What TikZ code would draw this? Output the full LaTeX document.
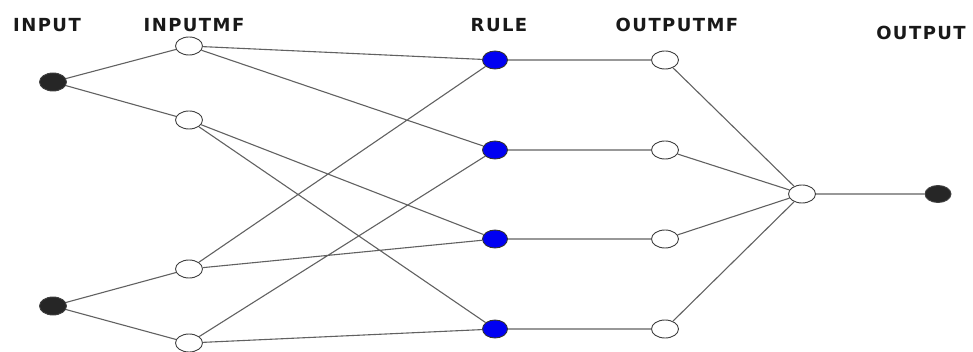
\documentclass[tikz,border=0pt]{standalone}
\usepackage{fontspec}
\setmainfont{Liberation Sans}
\newfontfamily\lblfont{DejaVu Sans}
\usetikzlibrary{shapes.geometric}
\begin{document}
\begin{tikzpicture}[x=1pt,y=-1pt,
  neuron/.style={ellipse,draw=black!75,line width=0.9pt,inner sep=0pt,minimum width=27pt,minimum height=18pt},
  inode/.style={neuron,fill=black!85},
  mfnode/.style={neuron,fill=white},
  rnode/.style={neuron,fill=blue!95!black,draw=black!80,minimum width=25pt,minimum height=18pt},
  lbl/.style={font=\lblfont\fontsize{18}{20}\selectfont\bfseries\addfontfeatures{LetterSpace=8},text=black!90},
  conn/.style={draw=black!62,line width=1.1pt}]
\useasboundingbox (0,0) rectangle (973,352);
\node[lbl] (tin) at (47,25) {INPUT};
\node[lbl] (tmf) at (194,25) {INPUTMF};
\node[lbl] (tr) at (499,25) {RULE};
\node[lbl] (tomf) at (677,25) {OUTPUTMF};
\node[lbl] (tout) at (921,33) {OUTPUT};
\node[inode] (x1) at (53,82) {};
\node[inode] (x2) at (53,306) {};
\node[mfnode] (a1) at (189,46) {};
\node[mfnode] (a2) at (189,120) {};
\node[mfnode] (b1) at (189,269) {};
\node[mfnode] (b2) at (189,343) {};
\node[rnode] (r1) at (495,60) {};
\node[rnode] (r2) at (495,150) {};
\node[rnode] (r3) at (495,239) {};
\node[rnode] (r4) at (495,329) {};
\node[mfnode] (o1) at (665,60) {};
\node[mfnode] (o2) at (665,150) {};
\node[mfnode] (o3) at (665,239) {};
\node[mfnode] (o4) at (665,329) {};
\node[mfnode] (s) at (802,194) {};
\node[inode,minimum width=26pt,minimum height=17pt] (y) at (938,194) {};
\path[conn] (x1)--(a1) (x1)--(a2) (x2)--(b1) (x2)--(b2)
  (a1)--(r1) (a1)--(r2) (a2)--(r3) (a2)--(r4)
  (b1)--(r1) (b1)--(r3) (b2)--(r2) (b2)--(r4)
  (r1)--(o1) (r2)--(o2) (r3)--(o3) (r4)--(o4)
  (o1)--(s) (o2)--(s) (o3)--(s) (o4)--(s) (s)--(y);
\end{tikzpicture}
\end{document}
